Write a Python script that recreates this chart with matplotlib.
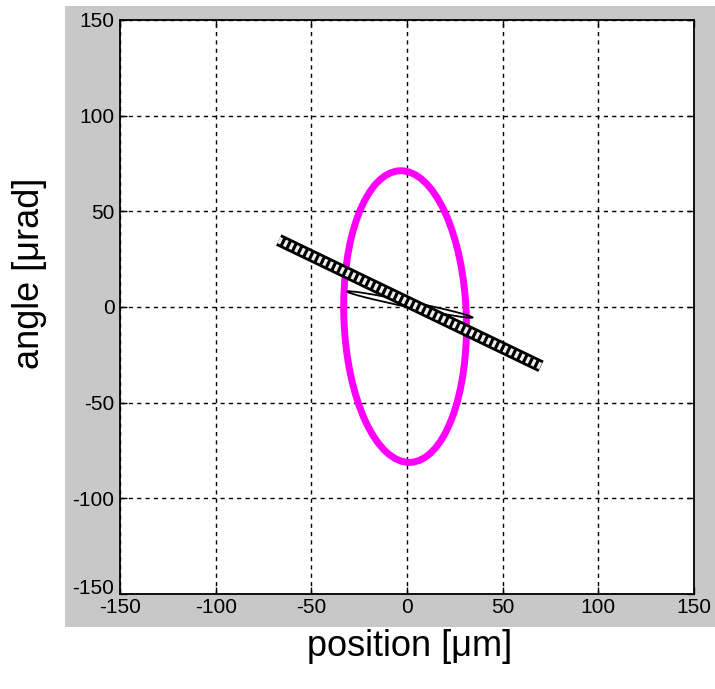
import matplotlib
matplotlib.use("Agg")
import matplotlib.pyplot as plt
from matplotlib.patches import Ellipse, Rectangle

# Data
ticks = [-150, -100, -50, 0, 50, 100, 150]

# magenta ellipse: centre, full width, full height, tilt (deg)
ell_center = (-1.0, -5.0)
ell_width = 64.0
ell_height = 152.5
ell_angle = 2.0

# thin black loop
loop_center = (1.5, 1.3)
loop_width = 66.9
loop_height = 3.0
loop_angle = -11.7

# hatched bar end points
bar_x = [-67.0, 70.0]
bar_y = [35.0, -31.0]

plt.rcParams['font.family'] = ['Liberation Sans', 'DejaVu Sans']
plt.rcParams['axes.unicode_minus'] = False

fig = plt.figure(figsize=(7.15, 6.89), dpi=100)
fig.patch.set_facecolor('white')

# grey MATLAB-style figure background
W, H = 715, 689
fig.patches.append(Rectangle((65 / W, 1 - 627 / H), (W - 65) / W, (627 - 6) / H,
                             transform=fig.transFigure, facecolor='#c8c8c8',
                             edgecolor='none', zorder=-10))

ax = fig.add_axes([120 / W, 1 - 594 / H, 574 / W, 574 / H])
ax.set_facecolor('white')
ax.set_xlim(-150, 150)
ax.set_ylim(-150, 150)
ax.set_xticks(ticks)
ax.set_yticks(ticks)
ax.tick_params(direction='in', length=5, width=1, labelsize=15, pad=4,
               top=True, right=True)
ax.tick_params(axis='x', pad=3)
ax.grid(True, color='black', linestyle=(0, (3, 3)), linewidth=1.0)
for s in ax.spines.values():
    s.set_linewidth(1.3)
# MATLAB lifts the lowest y label so it sits above the x labels
ax.get_yticklabels()[0].set_va('baseline')

ax.add_patch(Ellipse(ell_center, ell_width, ell_height, angle=ell_angle,
                     fill=False, edgecolor='#ff00ff', linewidth=5, zorder=3))
ax.add_patch(Ellipse(loop_center, loop_width, loop_height, angle=loop_angle,
                     fill=False, edgecolor='black', linewidth=1.3, zorder=4))

ax.plot(bar_x, bar_y, color='black', linewidth=9, solid_capstyle='butt', zorder=5)
ax.plot(bar_x, bar_y, color='#eeeeee', linewidth=5, dashes=(0.45, 0.45),
        dash_capstyle='butt', zorder=6)

fig.text(30 / W, 1 - 273 / H, 'angle [\u03bcrad]', rotation=90, fontsize=26,
         ha='center', va='center')
fig.text(410 / W, 1 - 647 / H, 'position [\u03bcm]', fontsize=26,
         ha='center', va='center')

fig.savefig('out.png', dpi=100, facecolor=fig.get_facecolor())
